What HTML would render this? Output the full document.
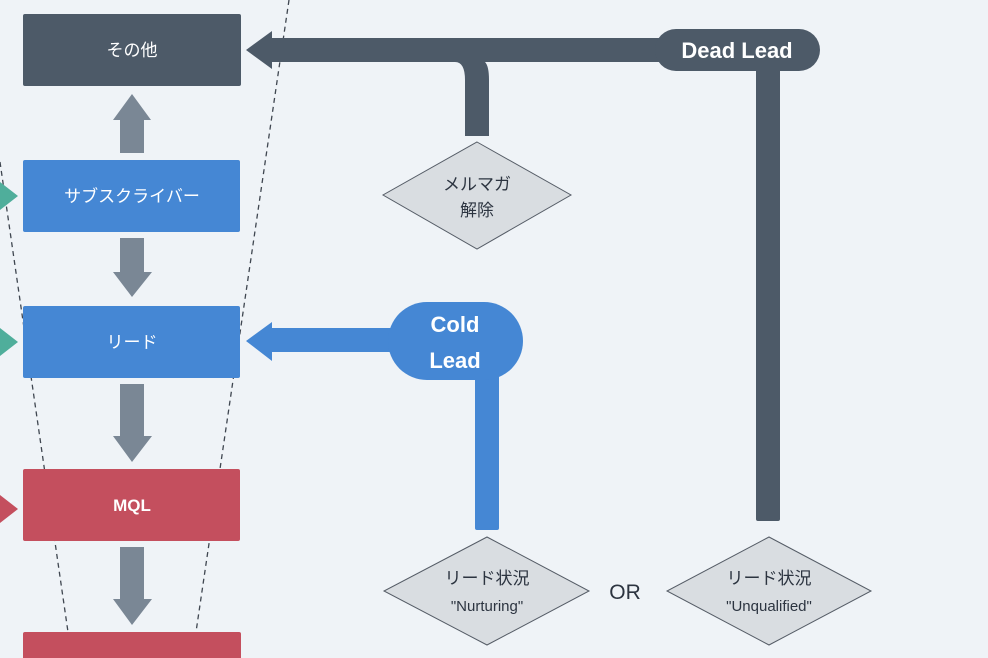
<!DOCTYPE html>
<html><head><meta charset="utf-8"><style>
body{margin:0;background:#eff3f7;}
svg{display:block;font-family:"Liberation Sans","Noto Sans CJK JP",sans-serif;}
</style></head><body>
<svg width="988" height="658" viewBox="0 0 988 658" xmlns="http://www.w3.org/2000/svg">
<rect width="988" height="658" fill="#eff3f7"/>
<!-- dashed funnel lines -->
<line x1="0" y1="162" x2="68" y2="632" stroke="#3f4650" stroke-width="1.3" stroke-dasharray="5,4"/>
<line x1="289" y1="0" x2="196" y2="632" stroke="#3f4650" stroke-width="1.3" stroke-dasharray="5,4"/>
<!-- side triangles -->
<polygon points="0,182 18,196 0,210" fill="#4fae9b"/>
<polygon points="0,328 18,342 0,356" fill="#4fae9b"/>
<polygon points="0,495 18,509 0,523" fill="#c44f5e"/>
<!-- boxes -->
<rect x="23" y="14" width="218" height="72" rx="2" fill="#4d5a68"/>
<text x="132" y="56" fill="#fff" font-size="17" text-anchor="middle">その他</text>
<rect x="23" y="160" width="217" height="72" rx="2" fill="#4587d4"/>
<text x="132" y="202" fill="#fff" font-size="17" text-anchor="middle">サブスクライバー</text>
<rect x="23" y="306" width="217" height="72" rx="2" fill="#4587d4"/>
<text x="132" y="348" fill="#fff" font-size="17" text-anchor="middle">リード</text>
<rect x="23" y="469" width="217" height="72" rx="2" fill="#c44f5e"/>
<text x="132" y="511" fill="#fff" font-size="17" font-weight="bold" text-anchor="middle">MQL</text>
<rect x="23" y="632" width="218" height="40" rx="2" fill="#c44f5e"/>
<!-- gray arrows -->
<g fill="#7a8795">
<polygon points="132,94 151,120 144,120 144,153 120,153 120,120 113,120"/>
<polygon points="120,238 144,238 144,272 152,272 132,297 113,272 120,272"/>
<polygon points="120,384 144,384 144,436 152,436 132,462 113,436 120,436"/>
<polygon points="120,547 144,547 144,599 152,599 132,625 113,599 120,599"/>
</g>
<!-- dead lead -->
<g fill="#4d5a68">
<polygon points="246,50 272,31 272,38 670,38 670,62 272,62 272,69"/>
<path d="M455,62 Q465,62 465,80 L465,136 L489,136 L489,80 Q489,66 485,62 Z"/>
<rect x="756" y="60" width="24" height="461" rx="2"/>
<rect x="655" y="29" width="165" height="42" rx="21"/>
</g>
<text x="737" y="58" fill="#fff" font-size="22" font-weight="bold" text-anchor="middle">Dead Lead</text>
<!-- cold lead -->
<g fill="#4587d4">
<polygon points="246,341 272,322 272,328 400,328 400,352 272,352 272,361"/>
<rect x="475" y="360" width="24" height="170" rx="2"/>
<rect x="388" y="302" width="135" height="78" rx="39"/>
</g>
<text x="455" y="332" fill="#fff" font-size="22" font-weight="bold" text-anchor="middle">Cold</text>
<text x="455" y="368" fill="#fff" font-size="22" font-weight="bold" text-anchor="middle">Lead</text>
<!-- diamonds -->
<g fill="#d9dde1" stroke="#555c66" stroke-width="1">
<polygon points="477,142 571,195 477,249 383,195"/>
<polygon points="487,537 589,591 487,645 384,591"/>
<polygon points="769,537 871,591 769,645 667,591"/>
</g>
<g fill="#2c3440" font-size="17" text-anchor="middle">
<text x="477" y="190">メルマガ</text>
<text x="477" y="216">解除</text>
<text x="487" y="584">リード状況</text>
<text x="487" y="611" font-size="15">"Nurturing"</text>
<text x="769" y="584">リード状況</text>
<text x="769" y="611" font-size="15">"Unqualified"</text>
<text x="625" y="599" font-size="21">OR</text>
</g>
</svg>
</body></html>
